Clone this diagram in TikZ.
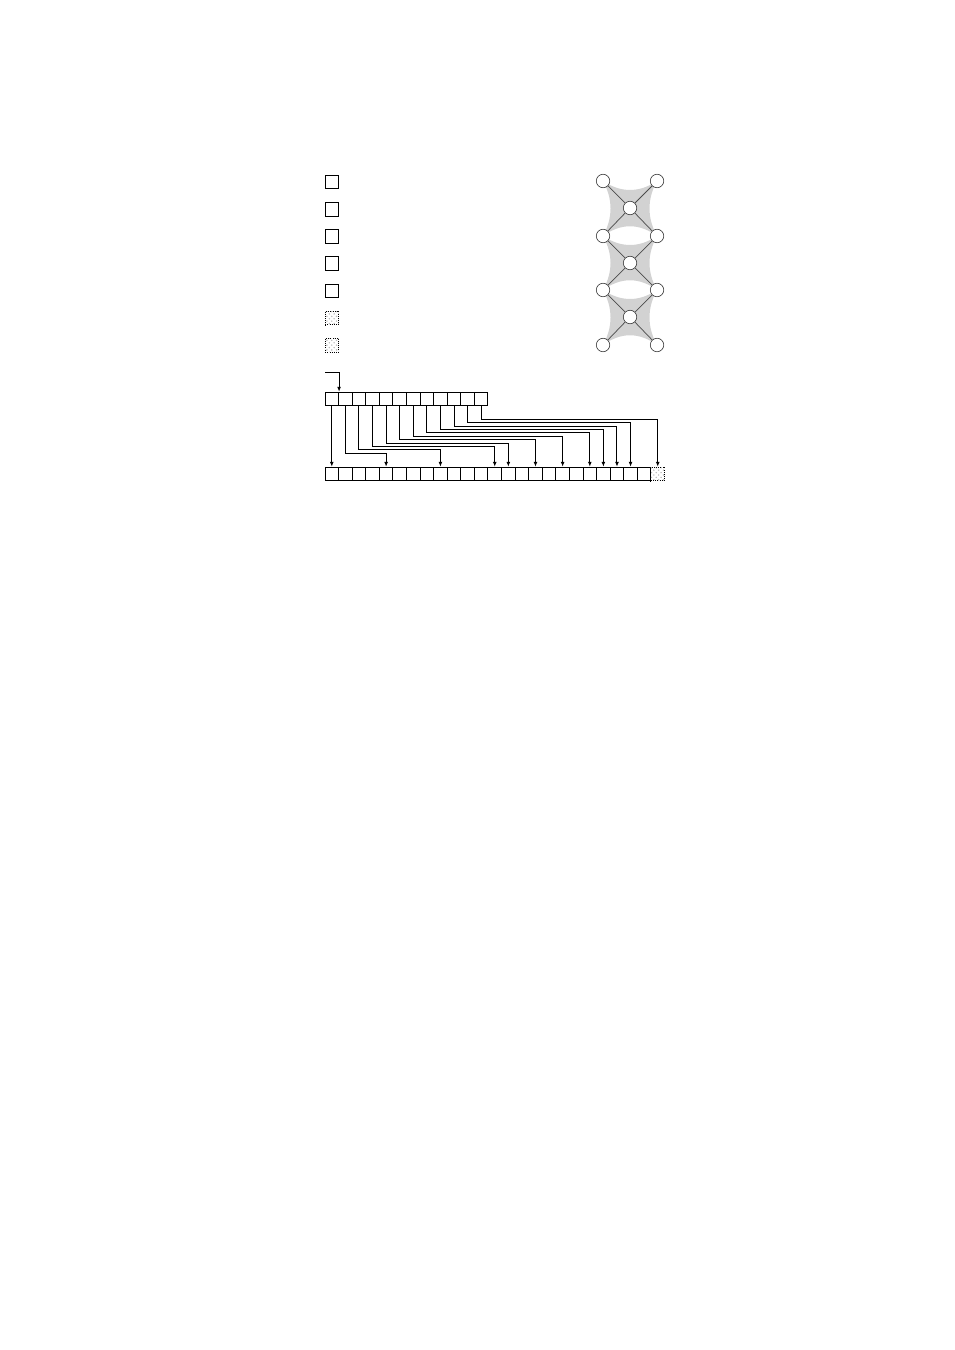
\documentclass[tikz,border=0pt]{standalone}
\usepackage{tikz}
\usetikzlibrary{positioning, arrows.meta, patterns, calc, backgrounds}

\begin{document}
\begin{tikzpicture}[x=0.624pt, y=-0.624pt,
    cell/.style={rectangle, draw=black, line width=0.6pt, minimum size=8.47pt, inner sep=0pt},
    ghost/.style={cell, dash pattern=on 0.6pt off 0.75pt, pattern=crosshatch dots, pattern color=gray!55},
    vertex/.style={circle, draw=black!75, fill=white, line width=0.4pt, minimum size=8.4pt, inner sep=0pt},
    arrow/.style={-{Latex[length=3pt, width=2.4pt]}, line width=0.6pt},
    hedge/.style={fill=gray!35, draw=none},
    spoke/.style={draw=black!70, line width=0.45pt}
]
    \useasboundingbox (0,0) rectangle (954,1350);

    % Legend keys
    \foreach \k in {0,...,4}
        \node[cell] (key\k) at (332, {182+27.2*\k}) {};
    \foreach \k in {5,6}
        \node[ghost] (key\k) at (332, {182+27.2*\k}) {};

    % Source array
    \foreach \i in {0,...,11}
        \node[cell] (t\i) at ({325+13.58*(\i+0.5)}, 399) {};

    % Target array
    \foreach \j in {0,...,23}
        \node[cell] (b\j) at ({325+13.58*(\j+0.5)}, 474) {};
    \node[ghost] (b24) at ({325+13.58*24.5}, 474) {};

    % Input pointer
    \coordinate (src) at (325, 372);
    \draw[arrow] (src) -| (t0.north east);

    % Copy arrows
    \draw[arrow] (t0) -- (b0);
    \foreach \i/\j/\lev in {1/4/453.3, 2/8/449.9, 3/12/446.5, 4/13/443.1, 5/15/439.7,
                            6/17/436.3, 7/19/432.9, 8/20/429.5, 9/21/426.1, 10/22/422.7, 11/24/419.3}
        \draw[arrow] (t\i.south) -- (t\i.south |- 0,\lev) -| (b\j.north);

    % Hypergraph vertices
    \foreach \r/\y in {0/181, 1/236, 2/290, 3/345} {
        \node[vertex] (vL\r) at (603, \y) {};
        \node[vertex] (vR\r) at (657, \y) {};
    }
    \foreach \r/\y in {0/208, 1/263, 2/317}
        \node[vertex] (vM\r) at (630, \y) {};

    % Hyperedges
    \begin{pgfonlayer}{background}
    \foreach \r/\s in {0/1, 1/2, 2/3}
        \fill[hedge] (vL\r.center)
            .. controls ($(vL\r.center)+(18,12)$) and ($(vR\r.center)+(-18,12)$) .. (vR\r.center)
            .. controls ($(vR\r.center)+(-10,18)$) and ($(vR\s.center)+(-10,-18)$) .. (vR\s.center)
            .. controls ($(vR\s.center)+(-18,-13)$) and ($(vL\s.center)+(18,-13)$) .. (vL\s.center)
            .. controls ($(vL\s.center)+(10,-18)$) and ($(vL\r.center)+(10,18)$) .. cycle;
    \end{pgfonlayer}

    % Spokes
    \foreach \r/\s in {0/1, 1/2, 2/3} {
        \draw[spoke] (vL\r) -- (vM\r);
        \draw[spoke] (vR\r) -- (vM\r);
        \draw[spoke] (vM\r) -- (vL\s);
        \draw[spoke] (vM\r) -- (vR\s);
    }

\end{tikzpicture}
\end{document}
